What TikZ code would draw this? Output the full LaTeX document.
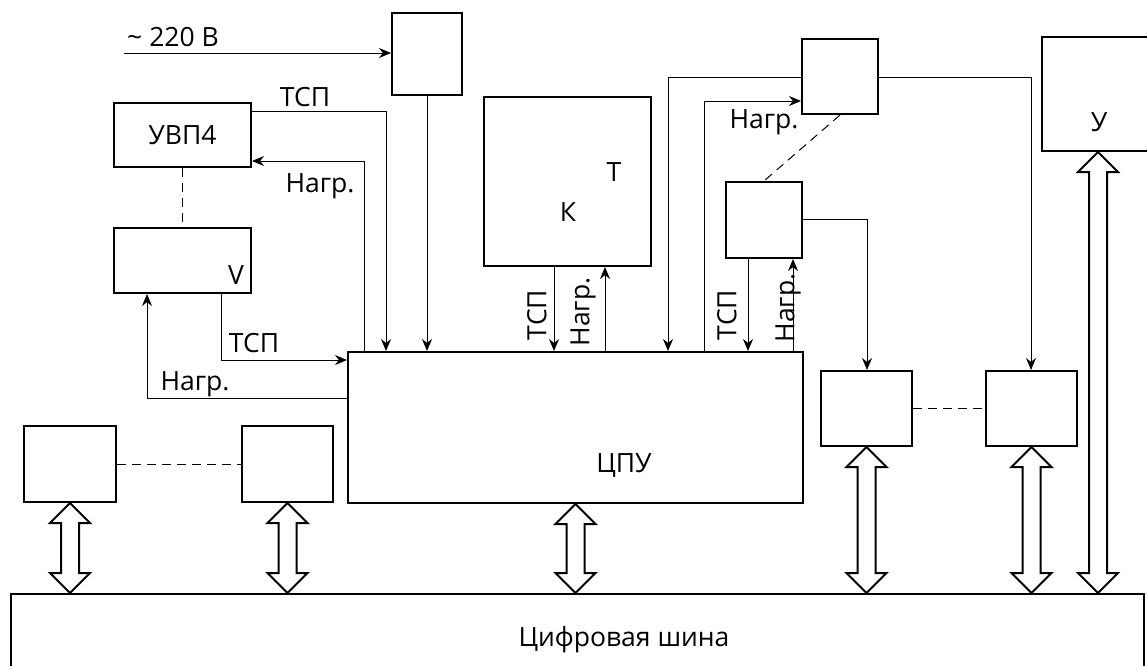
\documentclass[tikz,border=0pt]{standalone}
\usepackage{fontspec}
\setmainfont{Open Sans}
\usetikzlibrary{arrows.meta,calc}
\tikzset{bx/.style={draw,line width=2pt,inner sep=0pt},
 sig/.style={-{Stealth[length=12pt,width=10pt]},line width=1pt},
 dsh/.style={dashed,dash pattern=on 9pt off 6pt,line width=1pt},
 dbl/.style={draw,line width=2pt,fill=white,line join=miter},
 lbl/.style={inner sep=0pt}}
% wide two-headed bus arrow between two points on one vertical
\newcommand{\dblarr}[2]{\path[dbl] let \p1=(#1),\p2=(#2) in
 (\x1,\y1) -- ({\x1+20pt},{\y1-20pt}) -- ({\x1+9pt},{\y1-20pt}) -- ({\x1+9pt},{\y2+20pt})
 -- ({\x1+20pt},{\y2+20pt}) -- (\x1,\y2) -- ({\x1-20pt},{\y2+20pt}) -- ({\x1-9pt},{\y2+20pt})
 -- ({\x1-9pt},{\y1-20pt}) -- ({\x1-20pt},{\y1-20pt}) -- cycle;}

\begin{document}
\begin{tikzpicture}[x=1pt,y=-1pt,font=\fontsize{26.5}{31}\selectfont]
\useasboundingbox (0,0) rectangle (1147,665);
% blocks
\node[bx,minimum width=70pt,minimum height=82pt](pwr) at (427,54){};
\node[bx,minimum width=137pt,minimum height=64pt](uvp) at (182.5,135){УВП4};
\node[bx,minimum width=137pt,minimum height=65pt](vbx) at (182.5,260.5){};
\node[bx,minimum width=455pt,minimum height=151pt](cpu) at (575.5,427.5){};
\node[bx,minimum width=167pt,minimum height=169pt](kt) at (567.5,181.5){};
\node[bx,minimum width=76pt,minimum height=75pt](tr) at (840,76.5){};
\node[bx,minimum width=76pt,minimum height=76pt](mb) at (764,220){};
\node[bx,minimum width=91pt,minimum height=75pt](ra) at (866.5,408.5){};
\node[bx,minimum width=91pt,minimum height=75pt](rb) at (1031.5,408.5){};
\node[bx,minimum width=112pt,minimum height=114pt](ubx) at (1098,94){};
\node[bx,minimum width=92pt,minimum height=76pt](l1) at (70,464){};
\node[bx,minimum width=91pt,minimum height=76pt](l2) at (287.5,464){};
\node[bx,minimum width=1133pt,minimum height=106pt](bus) at (577.5,647){};
% texts
\node[lbl](tv) at (236,275){V};
\node[lbl](tt) at (614,172){Т};
\node[lbl](tk) at (568,212){К};
\node[lbl](tu) at (1099,122){У};
\node[lbl](tcpu) at (624,465){ЦПУ};
\node[lbl](tbus) at (624,640){Цифровая шина};
\node[lbl](tac) at (173,37){\textasciitilde{} 220 В};
\node[lbl](lt1) at (305,97){ТСП};
\node[lbl](ln1) at (320,186){Нагр.};
\node[lbl](lt2) at (254,343){ТСП};
\node[lbl](ln2) at (195,384){Нагр.};
\node[lbl](ln4) at (764,122){Нагр.};
\node[lbl,rotate=90](lt3) at (537,315){ТСП};
\node[lbl,rotate=90](ln3) at (583,312){Нагр.};
\node[lbl,rotate=90](lt4) at (727,315){ТСП};
\node[lbl,rotate=90](ln5) at (788,308){Нагр.};
% signal lines
\coordinate (ac) at (124,53);
\coordinate (t1) at (386,111);\coordinate (n1) at (364,161);
\coordinate (t2) at (221,360);\coordinate (n2) at (147,398);
\coordinate (t3) at (554,300);\coordinate (n3) at (605,300);
\coordinate (c1) at (668,77);\coordinate (n4) at (704,101);
\coordinate (c2) at (1031,77);\coordinate (c3) at (867,219);
\coordinate (t4) at (748,300);\coordinate (n5) at (793,300);
\draw[sig](ac)--(ac -| pwr.west);
\draw[sig](pwr.south)--(pwr.south |- cpu.north);
\draw[sig](t1 -| uvp.east)-|(t1 |- cpu.north);
\draw[sig](n1 |- cpu.north)|-(n1 -| uvp.east);
\draw[sig](t2 |- vbx.south)|-(t2 -| cpu.west);
\draw[sig](n2 -| cpu.west)-|(n2 |- vbx.south);
\draw[sig](t3 |- kt.south)--(t3 |- cpu.north);
\draw[sig](n3 |- cpu.north)--(n3 |- kt.south);
\draw[sig](c1 -| tr.west)-|(c1 |- cpu.north);
\draw[sig](n4 |- cpu.north)|-(n4 -| tr.west);
\draw[sig](c2 -| tr.east)-|(c2 |- rb.north);
\draw[sig](t4 |- mb.south)--(t4 |- cpu.north);
\draw[sig](n5 |- cpu.north)--(n5 |- mb.south);
\draw[sig](c3 -| mb.east)-|(c3 |- ra.north);
% dashed links
\draw[dsh](uvp.south)--(vbx.north);
\draw[dsh](tr.south)--(mb.north);
\draw[dsh](l1.east)--(l2.west);
\draw[dsh](ra.east)--(rb.west);
% bus arrows
\dblarr{l1.south}{l1.south |- bus.north}
\dblarr{l2.south}{l2.south |- bus.north}
\dblarr{cpu.south}{cpu.south |- bus.north}
\dblarr{ra.south}{ra.south |- bus.north}
\dblarr{rb.south}{rb.south |- bus.north}
\dblarr{ubx.south}{ubx.south |- bus.north}
\end{tikzpicture}
\end{document}
